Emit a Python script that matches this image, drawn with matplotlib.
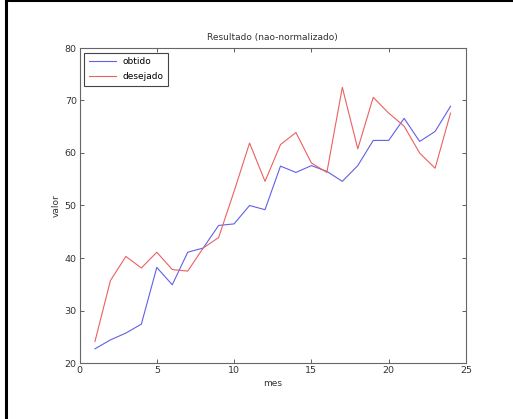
import matplotlib
matplotlib.use("Agg")
import matplotlib.pyplot as plt
from matplotlib.lines import Line2D

# dados
mes = list(range(1, 25))
obtido = [22.7, 24.4, 25.7, 27.4, 38.2, 34.9, 41.1, 41.9, 46.2, 46.5, 50.0, 49.2,
          57.5, 56.3, 57.6, 56.5, 54.6, 57.6, 62.4, 62.4, 66.6, 62.2, 64.1, 68.9]
desejado = [24.1, 35.7, 40.3, 38.1, 41.1, 37.8, 37.5, 41.9, 43.9, 52.7, 61.9, 54.6,
            61.6, 63.9, 58.1, 56.3, 72.5, 60.8, 70.6, 67.6, 65.1, 60.0, 57.1, 67.6]

fig = plt.figure(figsize=(5.13, 4.19), dpi=100)
ax = fig.add_axes([79.5 / 513, 1 - 363 / 419, (466 - 79.5) / 513, (363 - 48) / 419])

ax.plot(mes, obtido, color="#6060e8", lw=0.8, label="obtido")
ax.plot(mes, desejado, color="#ec6060", lw=0.8, label="desejado")

ax.set_xlim(0, 25)
ax.set_ylim(20, 80)
ax.set_xticks([0, 5, 10, 15, 20, 25])
ax.set_yticks([20, 30, 40, 50, 60, 70, 80])
ax.tick_params(direction="in", top=True, right=True, labelsize=6.8, length=3,
               width=0.6, colors="#444444", labelcolor="#333333", pad=2)
for s in ax.spines.values():
    s.set_color("#666666")
    s.set_linewidth(0.8)

ax.set_title("Resultado (nao-normalizado)", fontsize=6.5, color="#333333", pad=6)
ax.set_xlabel("mes", fontsize=6.5, color="#333333", labelpad=3)
ax.set_ylabel("valor", fontsize=6.5, color="#333333", labelpad=3)

leg = ax.legend(loc="upper left", fontsize=6.5, fancybox=False, framealpha=1,
                edgecolor="#444444", handlelength=3.0, borderaxespad=0.5,
                labelspacing=0.7, borderpad=0.5)
leg.get_frame().set_linewidth(0.8)

# moldura preta (esquerda e topo)
fig.add_artist(Line2D([6 / 513, 6 / 513], [0, 1 - 1.5 / 419], color="black", lw=2.2,
                      transform=fig.transFigure))
fig.add_artist(Line2D([6 / 513, 1], [1 - 1.5 / 419, 1 - 1.5 / 419], color="black", lw=1.5,
                      transform=fig.transFigure))

fig.savefig("out.png", dpi=100)
